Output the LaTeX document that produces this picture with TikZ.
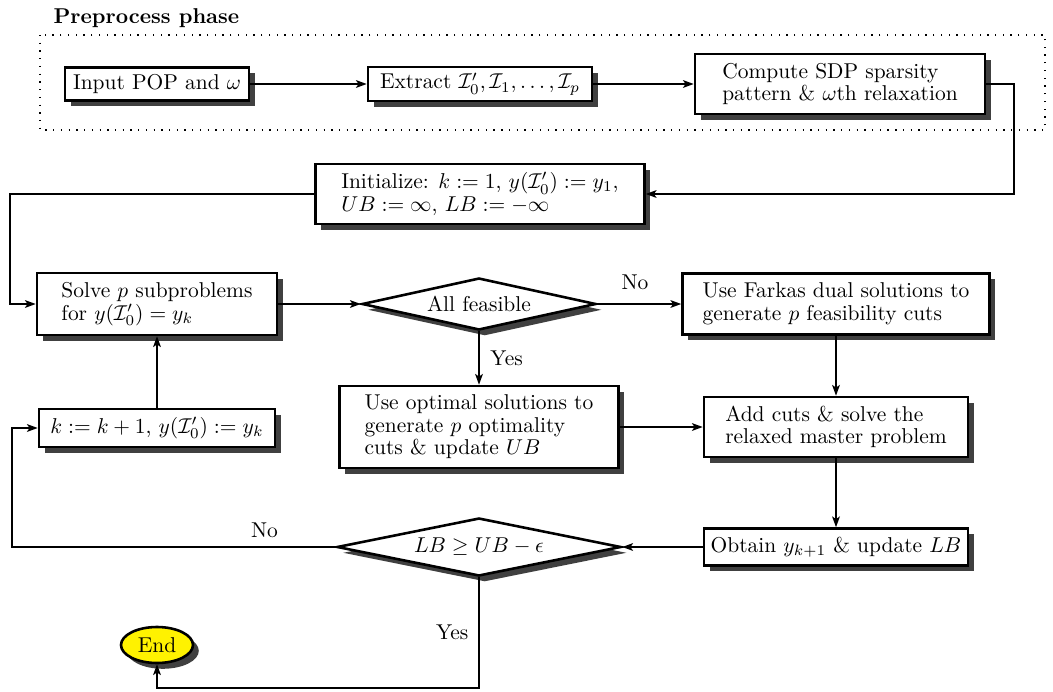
\documentclass[tikz,border=0pt]{standalone}
\usetikzlibrary{shapes.geometric,shadows,arrows.meta}
\newcommand\pxu[1]{#1*0.466pt}
\begin{document}
\begin{tikzpicture}[x=0.466pt,y=-0.466pt,
  shad/.style={drop shadow={shadow xshift=2.7pt,shadow yshift=-2.7pt,fill=black!75,opacity=1}},
  box/.style={draw,line width=1.2pt,fill=white,shad,inner sep=0pt,font=\fontsize{10}{10.5}\selectfont},
  mbox/.style={box,align=left,inner xsep=\pxu{20}},
  dec/.style={diamond,draw,line width=1.2pt,fill=white,shad,inner sep=0pt,aspect=4.5},
  conn/.style={line width=0.8pt},
  arr/.style={conn,-{Stealth[length=5pt,width=3.6pt,inset=1.2pt]}},
  lab/.style={font=\fontsize{10}{12}\selectfont}]
\useasboundingbox (0,0) rectangle (1053,692);

% preprocess frame and title
\node[anchor=west,font=\bfseries] (title) at (46,18) {Preprocess phase};
\draw[line width=0.6pt,dash pattern=on 0.6pt off 3pt] (40,35) rectangle (1045,130);

% nodes
\node[box,minimum width=\pxu{184},minimum height=\pxu{33}] (in) at (157,84) {Input POP and $\omega$};
\node[box,minimum width=\pxu{224},minimum height=\pxu{34}] (ex) at (480,84) {Extract $\mathcal{I}_0',\mathcal{I}_1,\ldots,\mathcal{I}_p$};
\node[mbox,minimum width=\pxu{290},minimum height=\pxu{60}] (cp) at (840,84) {Compute SDP sparsity\\pattern \& $\omega$th relaxation};
\node[mbox,minimum width=\pxu{329},minimum height=\pxu{60}] (init) at (480,194) {Initialize: $k:=1$, $y(\mathcal{I}_0'):=y_1$,\\$UB:=\infty$, $LB:=-\infty$};
\node[mbox,minimum width=\pxu{240},minimum height=\pxu{62}] (solve) at (157,304) {Solve $p$ subproblems\\for $y(\mathcal{I}_0')=y_k$};
\node[dec,minimum width=\pxu{234},minimum height=\pxu{52}] (feas) at (479,304) {All feasible};
\node[mbox,minimum width=\pxu{307},minimum height=\pxu{61}] (farkas) at (836,304) {Use Farkas dual solutions to\\generate $p$ feasibility cuts};
\node[mbox,minimum width=\pxu{279},minimum height=\pxu{82}] (opt) at (479,427) {Use optimal solutions to\\generate $p$ optimality\\cuts \& update $UB$};
\node[mbox,minimum width=\pxu{264},minimum height=\pxu{60}] (add) at (836,427) {Add cuts \& solve the\\relaxed master problem};
\node[box,minimum width=\pxu{264},minimum height=\pxu{37}] (obtain) at (836,547) {Obtain $y_{k+1}$ \& update $LB$};
\node[dec,minimum width=\pxu{284},minimum height=\pxu{58}] (lb) at (479,547) {$LB\geq UB-\epsilon$};
\node[box,minimum width=\pxu{236},minimum height=\pxu{38}] (kbox) at (157,428) {$k:=k+1$, $y(\mathcal{I}_0'):=y_k$};
\node[ellipse,draw,line width=1.2pt,fill=yellow,shad,inner sep=0pt,minimum width=\pxu{72},minimum height=\pxu{36},font=\fontsize{10}{10}\selectfont] (end) at (157,645) {End};

% corner coordinates
\coordinate (rx) at (1014,0);
\coordinate (lx1) at (10,0);
\coordinate (lx2) at (12,0);
\coordinate (by) at (0,688);

% connectors
\draw[arr] (in) -- (ex);
\draw[arr] (ex) -- (cp);
\draw[arr] (cp.east) -- (cp.east -| rx) |- (init.east);
\draw[arr] (init.west) -- (init.west -| lx1) |- (solve.west);
\draw[arr] (solve) -- (feas);
\draw[arr] (feas) -- node[lab,above=3pt,pos=0.45]{No} (farkas);
\draw[arr] (feas) -- node[lab,right=1.6pt]{Yes} (opt);
\draw[arr] (farkas) -- (add);
\draw[arr] (opt) -- (add);
\draw[arr] (add) -- (obtain);
\draw[arr] (obtain) -- (lb);
\draw[arr] (lb.west) -- node[lab,above=0.5pt,pos=0.22]{No} (lb.west -| lx2) |- (kbox.west);
\draw[arr] (kbox) -- (solve);
\draw[arr] (lb.south) -- node[lab,left=1.2pt]{Yes} (lb.south |- by) -| (end.south);
\end{tikzpicture}
\end{document}
